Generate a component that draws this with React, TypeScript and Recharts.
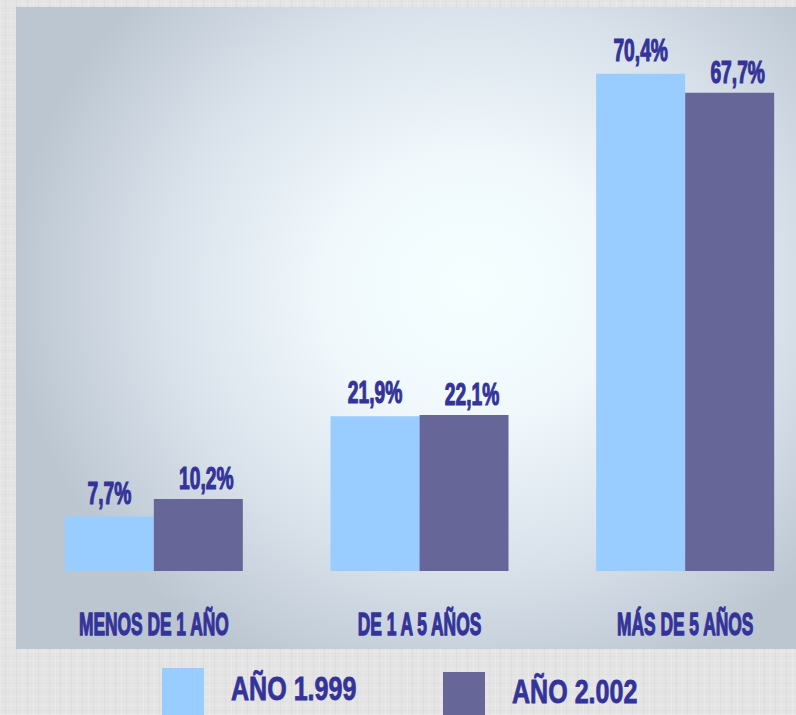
import React from 'react';
import { BarChart, Bar, XAxis, YAxis, Legend, LabelList } from 'recharts';

const categories = ['MENOS DE 1 AÑO', 'DE 1 A 5 AÑOS', 'MÁS DE 5 AÑOS'];
const year1999 = [7.7, 21.9, 70.4];
const year2002 = [10.2, 22.1, 67.7];
const seriesNames = ['AÑO 1.999', 'AÑO 2.002'];
const yTicks = [0, 80];

const data = categories.map((cat, i) => ({
  cat,
  y1999: year1999[i],
  y2002: year2002[i],
}));

const INK = '#333399';
const LIGHT = '#99CCFF';
const DARK = '#666699';
const FONT = "'Liberation Sans', Arial, sans-serif";

const fmt = (v: number) => v.toFixed(1).replace('.', ',') + '%';

// category names under the bars, squeezed like the original narrow face
const CategoryTick = ({ x, y, payload }: any) => (
  <text
    transform={`translate(${x},${y + 56}) scale(0.56,1)`}
    textAnchor="middle"
    fill={INK}
    stroke={INK}
    strokeWidth={1.3}
    fontFamily={FONT}
    fontWeight="bold"
    fontSize={31}
  >
    {payload.value}
  </text>
);

const valueLabel = (gap: number, dx: number) => (props: any) => {
  const { x, y, width, value } = props;
  return (
    <text
      transform={`translate(${x + width / 2 + dx},${y - gap}) scale(0.62,1)`}
      textAnchor="middle"
      fill={INK}
      stroke={INK}
      strokeWidth={1.2}
      fontFamily={FONT}
      fontWeight="bold"
      fontSize={31}
    >
      {fmt(value)}
    </text>
  );
};

const LegendBox = ({ payload }: any) => {
  const items = payload || [];
  const spots = [
    { sq: 162, sqTop: 8, tx: 231, base: 40 },
    { sq: 443, sqTop: 12, tx: 512, base: 43 },
  ];
  return (
    <svg width={796} height={55}>
      {items.map((it: any, i: number) => {
        const s = spots[i];
        return (
          <g key={it.value}>
            <rect x={s.sq} y={s.sqTop} width={42} height={60} fill={it.color} />
            <text
              transform={`translate(${s.tx},${s.base}) scale(0.76,1)`}
              fill={INK}
              stroke={INK}
              strokeWidth={0.8}
              fontFamily={FONT}
              fontWeight="bold"
              fontSize={33}
            >
              {it.value}
            </text>
          </g>
        );
      })}
    </svg>
  );
};

export default function App() {
  return (
    <div
      style={{
        position: 'absolute',
        left: 0,
        top: 0,
        width: 796,
        height: 715,
        overflow: 'hidden',
        backgroundColor: '#e4e4e4',
        backgroundImage:
          'repeating-linear-gradient(90deg, rgba(255,255,255,0.18) 0 1px, transparent 1px 5px, rgba(0,0,0,0.03) 5px 6px, transparent 6px 11px), repeating-linear-gradient(0deg, rgba(255,255,255,0.15) 0 1px, transparent 1px 4px, rgba(0,0,0,0.02) 4px 5px, transparent 5px 9px)',
      }}
    >
      <div
        style={{
          position: 'absolute',
          left: 16,
          top: 7,
          width: 780,
          height: 642,
          background:
            'radial-gradient(ellipse 460px 420px at 454px 280px, #f5ffff 0%, #f0f8fc 32%, #d8e1ea 68%, #bcc6d1 100%)',
        }}
      />
      <div style={{ position: 'absolute', left: 0, top: 0 }}>
        <BarChart
          width={818}
          height={715}
          data={data}
          margin={{ top: 6, right: 0, bottom: 0, left: 21 }}
          barCategoryGap="16.5%"
          barGap={0}
        >
          <XAxis
            dataKey="cat"
            height={144}
            axisLine={false}
            tickLine={false}
            interval={0}
            tick={<CategoryTick />}
          />
          <YAxis hide domain={[0, 80]} ticks={yTicks} />
          <Legend
            verticalAlign="middle"
            layout="horizontal"
            content={<LegendBox />}
            wrapperStyle={{ top: 660, left: 0, width: 796, height: 55, overflow: 'hidden' }}
          />
          <Bar dataKey="y1999" name={seriesNames[0]} fill={LIGHT} isAnimationActive={false}>
            <LabelList dataKey="y1999" content={valueLabel(13, 0)} />
          </Bar>
          <Bar dataKey="y2002" name={seriesNames[1]} fill={DARK} isAnimationActive={false}>
            <LabelList dataKey="y2002" content={valueLabel(10, 8)} />
          </Bar>
        </BarChart>
      </div>
    </div>
  );
}
